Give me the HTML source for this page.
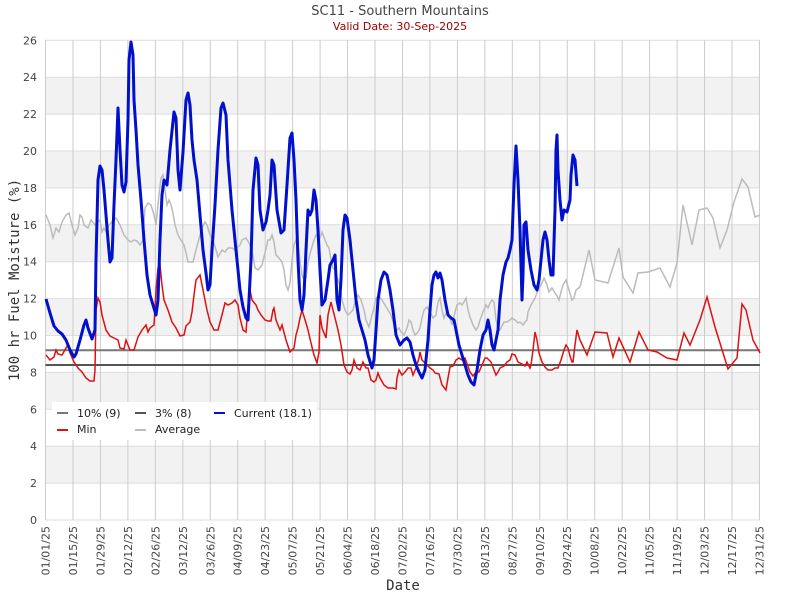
<!DOCTYPE html>
<html><head><meta charset="utf-8"><style>
body{margin:0;background:#fff}
svg{display:block;font-family:"DejaVu Sans","Liberation Sans",sans-serif}
</style></head><body>
<svg width="800" height="600" viewBox="0 0 800 600">
<rect width="800" height="600" fill="#fff"/>
<g fill="#f2f2f2">
<rect x="45.5" y="446.2" width="714.5" height="36.9"/>
<rect x="45.5" y="372.4" width="714.5" height="36.9"/>
<rect x="45.5" y="298.6" width="714.5" height="36.9"/>
<rect x="45.5" y="224.8" width="714.5" height="36.9"/>
<rect x="45.5" y="151" width="714.5" height="36.9"/>
<rect x="45.5" y="77.2" width="714.5" height="36.9"/>
</g>
<path stroke="#ddd" stroke-width="1" fill="none" d="M45.5 520H760M45.5 483.1H760M45.5 446.2H760M45.5 409.3H760M45.5 372.4H760M45.5 335.5H760M45.5 298.6H760M45.5 261.7H760M45.5 224.8H760M45.5 187.9H760M45.5 151H760M45.5 114.1H760M45.5 77.2H760M45.5 40.3H760"/>
<path stroke="#ccc" stroke-width="1" fill="none" d="M45.5 40V520M72.96 40V520M100.42 40V520M127.88 40V520M155.34 40V520M182.8 40V520M210.26 40V520M237.72 40V520M265.18 40V520M292.64 40V520M320.1 40V520M347.56 40V520M375.02 40V520M402.48 40V520M429.94 40V520M457.4 40V520M484.86 40V520M512.32 40V520M539.78 40V520M567.24 40V520M594.7 40V520M622.16 40V520M649.62 40V520M677.08 40V520M704.54 40V520M732 40V520M759.46 40V520"/>
<g fill="#444" font-size="11" text-anchor="end">
<text x="37" y="524">0</text><text x="37" y="487.1">2</text><text x="37" y="450.2">4</text><text x="37" y="413.3">6</text><text x="37" y="376.4">8</text><text x="37" y="339.5">10</text><text x="37" y="302.6">12</text><text x="37" y="265.7">14</text><text x="37" y="228.8">16</text><text x="37" y="191.9">18</text><text x="37" y="155">20</text><text x="37" y="118.1">22</text><text x="37" y="81.2">24</text><text x="37" y="44.3">26</text>
<text transform="translate(49.5,526) rotate(-90)">01/01/25</text>
<text transform="translate(76.96,526) rotate(-90)">01/15/25</text>
<text transform="translate(104.42,526) rotate(-90)">01/29/25</text>
<text transform="translate(131.88,526) rotate(-90)">02/12/25</text>
<text transform="translate(159.34,526) rotate(-90)">02/26/25</text>
<text transform="translate(186.8,526) rotate(-90)">03/12/25</text>
<text transform="translate(214.26,526) rotate(-90)">03/26/25</text>
<text transform="translate(241.72,526) rotate(-90)">04/09/25</text>
<text transform="translate(269.18,526) rotate(-90)">04/23/25</text>
<text transform="translate(296.64,526) rotate(-90)">05/07/25</text>
<text transform="translate(324.1,526) rotate(-90)">05/21/25</text>
<text transform="translate(351.56,526) rotate(-90)">06/04/25</text>
<text transform="translate(379.02,526) rotate(-90)">06/18/25</text>
<text transform="translate(406.48,526) rotate(-90)">07/02/25</text>
<text transform="translate(433.94,526) rotate(-90)">07/16/25</text>
<text transform="translate(461.4,526) rotate(-90)">07/30/25</text>
<text transform="translate(488.86,526) rotate(-90)">08/13/25</text>
<text transform="translate(516.32,526) rotate(-90)">08/27/25</text>
<text transform="translate(543.78,526) rotate(-90)">09/10/25</text>
<text transform="translate(571.24,526) rotate(-90)">09/24/25</text>
<text transform="translate(598.7,526) rotate(-90)">10/08/25</text>
<text transform="translate(626.16,526) rotate(-90)">10/22/25</text>
<text transform="translate(653.62,526) rotate(-90)">11/05/25</text>
<text transform="translate(681.08,526) rotate(-90)">11/19/25</text>
<text transform="translate(708.54,526) rotate(-90)">12/03/25</text>
<text transform="translate(736,526) rotate(-90)">12/17/25</text>
<text transform="translate(763.46,526) rotate(-90)">12/31/25</text>
</g>
<line x1="45.5" y1="350.3" x2="760" y2="350.3" stroke="#777" stroke-width="2"/>
<line x1="45.5" y1="365" x2="760" y2="365" stroke="#555" stroke-width="2"/>
<polyline fill="none" stroke="#bbb" stroke-width="1.5" points="46,215 50,225 53,238 56,228 59,232 62,222 66,215 69,213 72,225 75,235 78,228 80,215 82,217 84,225 88,228 91,220 95,225 100,220 102,232 104,228 106,232 109,225 111,223 113,220 116,218 120,225 124,235 128,240 131,242 134,240 137,241 140,245 143,240 145,208 148,203 151,205 154,215 156,225 159,195 161,178 163,175 165,190 167,205 169,200 171,205 173,213 175,225 178,235 181,240 184,245 186,253 188,262 190,262 193,262 196,250 200,235 202,228 205,222 207,225 210,235 213,240 216,250 218,257 222,250 225,252 228,248 232,248 235,250 237,248 240,245 242,240 246,238 249,243 252,250 255,268 258,270 262,265 265,253 268,240 270,240 272,235 274,242 276,255 279,258 282,262 284,270 286,285 288,290 290,283 292,260 294,245 296,240 298,245 300,260 302,275 304,280 306,278 308,262 311,250 314,240 316,235 318,237 320,238 322,232 325,240 327,245 329,248 331,260 333,268 335,270 338,280 340,286 342,300 345,310 348,315 351,312 353,310 355,302 358,295 361,300 364,310 366,320 369,327 372,315 374,308 376,298 379,296 382,300 385,305 388,310 391,315 394,325 397,330 399,328 401,332 404,335 407,328 409,320 411,322 413,330 415,335 418,332 420,328 422,318 424,310 427,307 430,312 433,318 436,315 438,302 440,298 442,310 444,318 446,313 448,312 450,318 452,325 455,312 457,305 460,303 462,305 464,302 466,298 468,310 470,317 473,325 476,330 478,327 480,320 483,312 486,305 488,308 490,303 492,300 494,302 496,320 498,328 500,330 502,326 504,322 507,322 510,320 512,318 515,320 518,323 520,322 523,325 525,322 527,320 528,312 531,305 535,298 538,290 541,285 544,278 547,285 549,292 552,288 555,293 557,296 559,300 561,292 563,285 566,280 569,290 572,300 574,298 576,290 580,287 589,250 595,280 608,283 619,248 623,277 633,293 638,273 648,272 660,268 670,287 677,263 683,205 692,245 699,210 707,208 713,218 720,248 727,230 734,202 742,179 748,187 755,217 760,215"/>
<polyline fill="none" stroke="#e01010" stroke-width="1.5" points="46,355 50,360 54,357 56,350 58,354 62,355 66,348 68,345 70,353 74,362 78,368 82,372 86,378 90,381 94,381 95,370 96,310 98,298 100,302 102,315 106,330 110,336 114,338 118,340 120,348 124,349 126,340 128,345 130,350 134,350 138,337 142,330 146,325 148,332 150,328 154,325 156,290 158,268 160,265 162,285 164,300 168,310 172,322 176,328 180,336 184,335 186,326 190,322 192,312 194,295 196,280 200,275 205,300 207,310 210,322 214,330 218,330 222,315 225,303 228,305 232,303 235,300 238,305 240,318 243,330 246,332 248,306 250,290 252,300 256,305 258,310 261,315 265,320 268,321 271,321 273,310 274,308 276,320 280,330 282,325 286,340 290,352 294,348 296,335 298,328 300,318 302,310 306,323 308,330 311,343 314,355 317,363 319,352 320,315 322,328 326,338 328,315 331,302 335,318 338,330 341,345 344,365 347,372 350,374 352,370 354,360 357,368 360,370 363,362 366,368 368,368 371,380 374,382 376,380 378,373 380,378 384,385 388,388 393,388 396,389 397,378 399,370 402,375 405,372 408,368 411,368 413,375 416,368 419,358 420,352 422,360 424,362 427,365 430,368 433,370 435,373 439,374 442,385 446,390 448,378 450,367 453,366 456,360 459,358 462,360 465,358 470,372 473,376 476,372 479,372 482,365 485,358 487,358 491,362 494,370 496,375 498,372 500,368 504,366 507,362 510,360 512,354 515,355 518,362 522,364 525,366 527,362 530,368 531,365 533,350 535,332 537,340 539,353 542,362 545,367 548,370 552,370 555,368 558,368 561,360 564,350 566,345 568,348 570,356 572,362 573,362 575,345 577,330 580,340 587,355 595,332 607,333 613,357 619,338 630,362 639,332 648,350 657,352 667,358 677,360 684,333 690,345 700,320 707,297 715,327 728,369 737,358 742,304 746,310 753,340 760,353"/>
<polyline fill="none" stroke="#0010cc" stroke-width="3" stroke-linejoin="round" points="46,299 50,313 54,326 58,331 62,334 66,340 70,350 74,357 76,354 80,340 84,325 86,320 88,328 92,339 95,330 96,260 98,180 100,166 102,170 104,190 106,215 108,240 110,262 112,258 114,205 116,160 118,108 120,150 122,185 124,192 126,182 128,120 129,60 131,42 133,55 134,100 136,130 138,165 141,200 144,240 147,275 150,295 153,305 156,315 158,300 160,240 162,195 164,180 167,185 170,150 174,112 176,118 178,170 180,190 183,152 186,100 188,93 190,105 192,140 194,160 197,180 200,215 203,250 206,273 208,290 210,285 212,250 215,205 218,150 221,108 223,103 226,115 228,160 232,210 236,250 240,290 243,307 246,318 248,320 251,260 253,190 256,158 258,165 260,210 263,230 266,222 268,210 270,195 272,160 274,165 277,210 281,233 284,230 287,185 290,138 292,133 294,160 296,200 298,260 300,300 302,310 304,295 306,250 308,210 310,215 312,210 314,190 316,200 318,230 320,270 322,305 325,300 328,280 330,265 333,260 335,255 337,300 339,310 341,280 343,230 345,215 347,218 350,240 353,270 356,300 359,320 362,330 365,340 368,355 372,368 374,360 376,330 378,300 381,280 384,272 387,275 390,290 393,310 396,335 400,345 404,340 407,338 410,342 413,355 416,365 419,372 422,378 425,370 428,340 430,310 432,285 434,275 436,272 438,278 440,273 442,280 445,300 448,315 451,318 454,320 456,330 459,345 462,355 465,365 468,375 471,382 474,385 477,370 480,350 483,335 486,330 488,320 490,330 492,345 494,350 496,340 498,330 500,300 503,275 506,262 508,258 510,250 512,240 514,185 516,146 518,180 520,230 522,300 523,275 524,225 526,222 528,250 531,270 534,285 537,290 539,280 541,260 543,240 545,232 547,240 549,260 551,275 553,275 555,210 556,150 557,135 558,170 560,200 562,220 564,210 567,212 570,200 571,175 573,155 575,160 577,186"/>
<rect x="52" y="402" width="265" height="38" fill="#fff"/>
<g font-size="11" fill="#222">
<line x1="57" y1="413" x2="68" y2="413" stroke="#777" stroke-width="2"/><text x="77" y="417">10% (9)</text>
<line x1="135" y1="413" x2="146" y2="413" stroke="#555" stroke-width="2"/><text x="155" y="417">3% (8)</text>
<line x1="214" y1="413" x2="225" y2="413" stroke="#0010cc" stroke-width="2"/><text x="234" y="417">Current (18.1)</text>
<line x1="57" y1="430" x2="68" y2="430" stroke="#e01010" stroke-width="2"/><text x="77" y="433">Min</text>
<line x1="135" y1="430" x2="146" y2="430" stroke="#bbb" stroke-width="2"/><text x="155" y="433">Average</text>
</g>
<text x="400" y="15" text-anchor="middle" font-size="13" fill="#444">SC11 - Southern Mountains</text>
<text x="400" y="30" text-anchor="middle" font-size="11" fill="#a00000">Valid Date: 30-Sep-2025</text>
<text x="403" y="590" text-anchor="middle" font-size="14" fill="#333" font-family="DejaVu Sans Mono,Liberation Mono,monospace">Date</text>
<text transform="translate(19,280) rotate(-90)" text-anchor="middle" font-size="14" fill="#333" font-family="DejaVu Sans Mono,Liberation Mono,monospace">100 hr Fuel Moisture (%)</text>
</svg>
</body></html>
